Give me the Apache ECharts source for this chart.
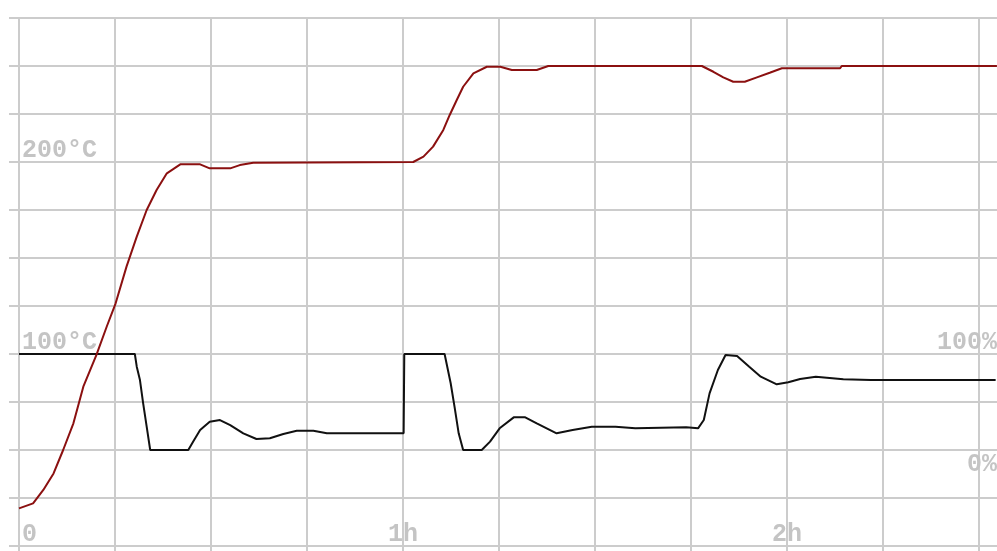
<!DOCTYPE html>
<html><head><meta charset="utf-8">
<script src="https://cdn.jsdelivr.net/npm/echarts@6/dist/echarts.min.js"></script>
<style>html,body{margin:0;padding:0;background:#fff}#c{width:997px;height:551px}</style>
</head><body><div id="c"></div>
<script>
// time in minutes
const tempTime  = [0, 2.2, 3.8, 5.4, 6.9, 8.5, 10.05, 12.1, 13.7, 15.1, 16.8, 18.4, 19.95, 21.5, 23.1, 25.2, 28.3, 29.8, 33.0, 34.5, 36.6, 61.6, 63.2, 64.7, 66.3, 67.3, 68.4, 69.4, 71.0, 73.1, 75.2, 77.0, 80.9, 82.7, 106.7, 108.5, 110.05, 111.6, 113.4, 115.3, 117.3, 119.2, 128.3, 128.55, 152.8];
const tempValue = [19.6, 22.2, 29.2, 37.8, 50, 63.9, 83, 99.5, 114.2, 126.4, 145.5, 161.1, 175, 185.4, 194.1, 198.8, 198.8, 196.7, 196.7, 198.4, 199.6, 200, 202.8, 208, 216.7, 224.5, 232.3, 239.2, 246.2, 249.6, 249.6, 247.9, 247.9, 250, 250, 247, 244.1, 241.8, 241.8, 244.1, 246.5, 248.8, 248.8, 250, 250];
const outTime   = [0, 18.1, 18.4, 18.9, 19.4, 19.95, 20.5, 26.45, 27.2, 28.3, 29.8, 31.4, 33.0, 35.05, 37.1, 39.2, 41.3, 43.4, 46.0, 48.1, 60.1, 60.2, 66.5, 67.45, 68.05, 68.7, 69.4, 72.3, 73.6, 75.1, 77.3, 79.1, 80.9, 84.0, 86.5, 89.5, 93.2, 96.3, 104.25, 106.1, 107.0, 107.9, 109.2, 110.4, 112.2, 114.1, 115.9, 118.4, 120.2, 122.05, 124.5, 128.8, 133.1, 152.6];
const outValue  = [100, 100, 86.8, 72.9, 48.6, 24.3, 0, 0, 8.7, 20.8, 29.5, 31.2, 26, 17.4, 11.5, 12.2, 16.7, 20.1, 20.1, 17.4, 17.4, 100, 100, 69.5, 45.1, 17.4, 0, 0, 8.7, 22.6, 34, 34, 27.8, 17.4, 20.8, 24.3, 24.3, 22.6, 23.6, 22.6, 31.2, 59, 83.3, 99, 97.9, 86.8, 76.4, 68.4, 70.5, 74, 76.4, 73.6, 72.9, 72.9];
const timeTickLabels = {0: '0', 60: '1h', 120: '2h'};
const tempTickLabels = {100: '100°C', 200: '200°C'};
const outTickLabels  = {0: '0%', 100: '100%'};

const GRID = '#cccccc';
const TXT = '#c4c4c4';
const FONT = 'Liberation Mono';
const chart = echarts.init(document.getElementById('c'), null, {renderer: 'canvas'});
const tempData = tempTime.map((t, i) => [t, tempValue[i]]);
const outData = outTime.map((t, i) => [t, outValue[i]]);
const gridW = 998;
const xMax = gridW / 6.4;
const lbl = {color: TXT, fontFamily: FONT, fontWeight: 'bold', fontSize: 25};

chart.setOption({
  animation: false,
  backgroundColor: '#ffffff',
  grid: {left: 19, top: 18, width: gridW, bottom: 5, containLabel: false, outerBoundsMode: 'none'},
  xAxis: [{
    type: 'value', min: 0, max: xMax, interval: 15, position: 'bottom',
    axisLine: {show: false},
    axisTick: {show: true, inside: false, length: 8, lineStyle: {color: GRID, width: 2}},
    splitLine: {show: true, lineStyle: {color: GRID, width: 2}},
    axisLabel: Object.assign({}, lbl, {
      inside: true, margin: 1, lineHeight: 20, alignMinLabel: 'left',
      formatter: v => timeTickLabels[v] !== undefined ? (v === 0 ? '{z|' + timeTickLabels[v] + '}' : timeTickLabels[v]) : '',
      rich: {z: Object.assign({}, lbl, {padding: [0, 0, 0, 3], lineHeight: 20})}
    })
  }, {
    type: 'value', min: 0, max: xMax, interval: 15, position: 'top',
    axisLine: {show: false},
    axisTick: {show: true, inside: false, length: 10, lineStyle: {color: GRID, width: 2}},
    splitLine: {show: false},
    axisLabel: {show: false}
  }],
  yAxis: [{
    type: 'value', min: 0, max: 275, interval: 25, position: 'left',
    axisLine: {show: false},
    axisTick: {show: true, inside: false, length: 10, lineStyle: {color: GRID, width: 2}},
    splitLine: {show: true, lineStyle: {color: GRID, width: 2}},
    axisLabel: Object.assign({}, lbl, {
      inside: true, margin: 3, verticalAlign: 'bottom', lineHeight: 23,
      formatter: v => tempTickLabels[v] || ''
    })
  }, {
    type: 'value', min: -100, max: 450, interval: 50, position: 'right',
    axisLine: {show: false}, axisTick: {show: false}, splitLine: {show: false},
    axisLabel: Object.assign({}, lbl, {
      inside: true, margin: 20, verticalAlign: 'middle',
      formatter: v => v === 100 ? '{up|' + outTickLabels[v] + '}' : (v === 0 ? '{dn|' + outTickLabels[v] + '}' : ''),
      rich: {
        up: Object.assign({}, lbl, {lineHeight: 24, padding: [0, 0, 22, 0]}),
        dn: Object.assign({}, lbl, {lineHeight: 26, padding: [30, 0, 0, 0]})
      }
    })
  }],
  series: [{
    type: 'line', name: 'output', xAxisIndex: 0, yAxisIndex: 1, data: outData,
    showSymbol: false, lineStyle: {color: '#111111', width: 2}, itemStyle: {color: '#111111'}, z: 3
  }, {
    type: 'line', name: 'temperature', xAxisIndex: 0, yAxisIndex: 0, data: tempData,
    showSymbol: false, lineStyle: {color: '#8b1010', width: 2}, itemStyle: {color: '#8b1010'}, z: 4
  }]
});
</script></body></html>
